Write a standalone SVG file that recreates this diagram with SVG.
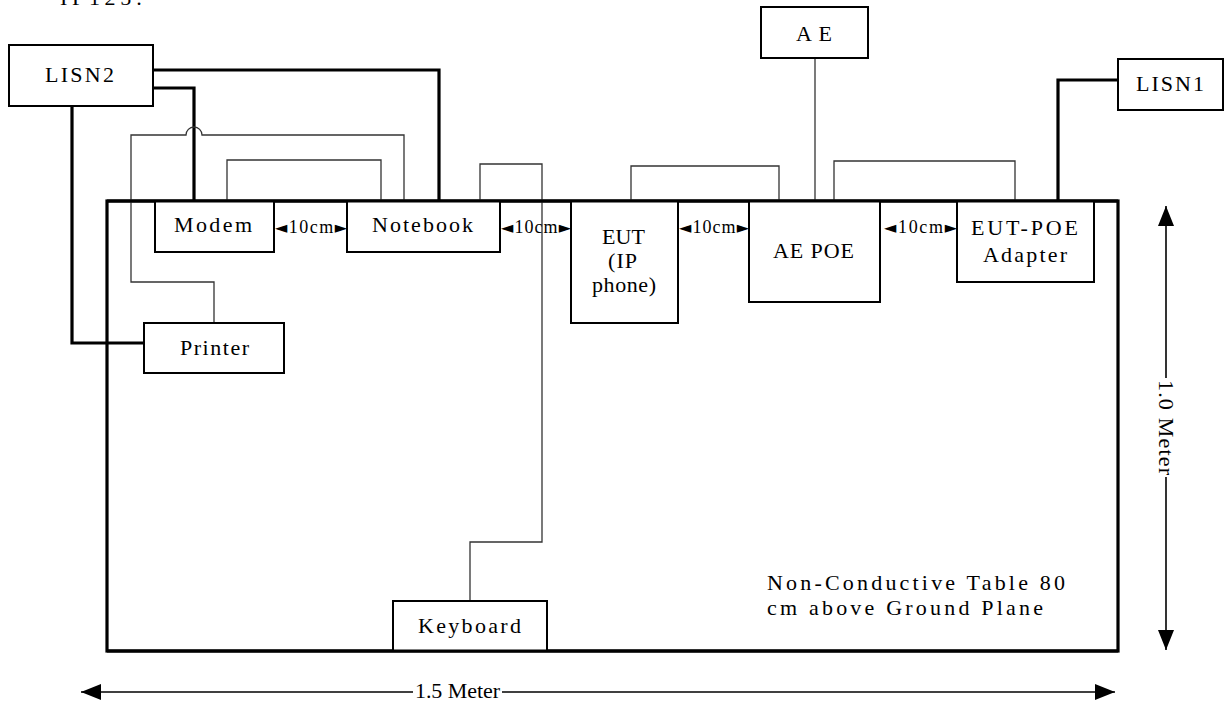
<svg xmlns="http://www.w3.org/2000/svg" width="1225" height="705" viewBox="0 0 1225 705">
<style>
text{font-family:"Liberation Serif","Times New Roman",serif;font-size:22px;fill:#000}
.box{fill:#fff;stroke:#000;stroke-width:2}
.thin{fill:none;stroke:#333;stroke-width:1.3}
.thick{fill:none;stroke:#000;stroke-width:3.2}
.dim{fill:none;stroke:#000;stroke-width:1.6}
.gap{font-size:18px}
.tri{font-family:"DejaVu Sans",sans-serif;font-size:16px}
</style>
<defs>
<marker id="ah" viewBox="0 0 20 16" refX="20" refY="8" markerWidth="20" markerHeight="16" markerUnits="userSpaceOnUse" orient="auto-start-reverse">
<path d="M0,0 L20,8 L0,16 z" fill="#000"/>
</marker>
</defs>
<rect width="1225" height="705" fill="#fff"/>
<text x="60" y="5" textLength="82" lengthAdjust="spacing">IP125:</text>

<g id="table">
<rect x="107" y="201" width="1011" height="450" fill="#fff" stroke="#000" stroke-width="3.2"/>
<text x="767" y="590" textLength="298" lengthAdjust="spacing">Non-Conductive Table 80</text>
<text x="767" y="615" textLength="276" lengthAdjust="spacing">cm above Ground Plane</text>
</g>

<g id="connectors">
<path class="thick" d="M153,70 H439 V201"/>
<path class="thick" d="M153,88 H194 V201"/>
<path class="thick" d="M72,106 V343 H144"/>
<path class="thick" d="M1118,80 H1058 V201"/>
<path class="thin" d="M214,323 V282 H131 V135 H186 A8,8 0 0 1 202,135 H404 V201"/>
<path class="thin" d="M227,201 V160 H381 V201"/>
<path class="thin" d="M480,201 V164 H542 V542 H470 V601"/>
<path class="thin" d="M631,201 V166 H779 V201"/>
<path class="thin" d="M815,58 V201"/>
<path class="thin" d="M834,201 V161 H1015 V201"/>
</g>

<g id="lisn2"><rect class="box" x="9" y="45" width="144" height="61"/><text x="45" y="82" textLength="69" lengthAdjust="spacing">LISN2</text></g>
<g id="lisn1"><rect class="box" x="1118" y="59" width="105" height="51"/><text x="1136" y="91" textLength="68" lengthAdjust="spacing">LISN1</text></g>
<g id="ae"><rect class="box" x="761" y="7" width="107" height="51"/><text x="796" y="41" textLength="36" lengthAdjust="spacing">AE</text></g>
<g id="modem"><rect class="box" x="155" y="201" width="119" height="51"/><text x="174" y="232" textLength="78" lengthAdjust="spacing">Modem</text></g>
<g id="notebook"><rect class="box" x="347" y="201" width="153" height="51"/><text x="372" y="232" textLength="101" lengthAdjust="spacing">Notebook</text></g>
<g id="eut"><rect class="box" x="571" y="201" width="107" height="122"/>
<text x="602" y="244" textLength="43" lengthAdjust="spacing">EUT</text>
<text x="608" y="268" textLength="29" lengthAdjust="spacing">(IP</text>
<text x="592" y="292" textLength="64" lengthAdjust="spacing">phone)</text></g>
<g id="aepoe"><rect class="box" x="749" y="201" width="131" height="101"/><text x="773" y="258" textLength="81" lengthAdjust="spacing">AE POE</text></g>
<g id="eutpoe"><rect class="box" x="957" y="201" width="137" height="81"/>
<text x="971" y="235" textLength="107" lengthAdjust="spacing">EUT-POE</text>
<text x="983" y="262" textLength="84" lengthAdjust="spacing">Adapter</text></g>
<g id="printer"><rect class="box" x="144" y="323" width="140" height="50"/><text x="180" y="355" textLength="69" lengthAdjust="spacing">Printer</text></g>
<g id="keyboard"><rect class="box" x="393" y="601" width="154" height="50"/><text x="418" y="633" textLength="103" lengthAdjust="spacing">Keyboard</text></g>

<line x1="107" y1="201" x2="1118" y2="201" stroke="#000" stroke-width="3.2"/>
<line x1="107" y1="651" x2="1118" y2="651" stroke="#000" stroke-width="3.2"/>

<g id="gaps">
<text class="gap" x="275" y="233" textLength="72" lengthAdjust="spacing"><tspan class="tri">◄</tspan>10cm<tspan class="tri">►</tspan></text>
<text class="gap" x="501" y="233" textLength="70" lengthAdjust="spacing"><tspan class="tri">◄</tspan>10cm<tspan class="tri">►</tspan></text>
<text class="gap" x="679" y="233" textLength="70" lengthAdjust="spacing"><tspan class="tri">◄</tspan>10cm<tspan class="tri">►</tspan></text>
<text class="gap" x="884" y="233" textLength="73" lengthAdjust="spacing"><tspan class="tri">◄</tspan>10cm<tspan class="tri">►</tspan></text>
</g>

<g id="dimensions">
<line class="dim" x1="413" y1="692" x2="81" y2="692" marker-end="url(#ah)"/>
<line class="dim" x1="502" y1="692" x2="1115" y2="692" marker-end="url(#ah)"/>
<text x="415" y="698" textLength="85" lengthAdjust="spacing">1.5 Meter</text>
<line class="dim" x1="1166" y1="378" x2="1166" y2="206" marker-end="url(#ah)"/>
<line class="dim" x1="1166" y1="477" x2="1166" y2="650" marker-end="url(#ah)"/>
<text transform="translate(1159,380) rotate(90)" x="0" y="0" textLength="95" lengthAdjust="spacing">1.0 Meter</text>
</g>
</svg>
